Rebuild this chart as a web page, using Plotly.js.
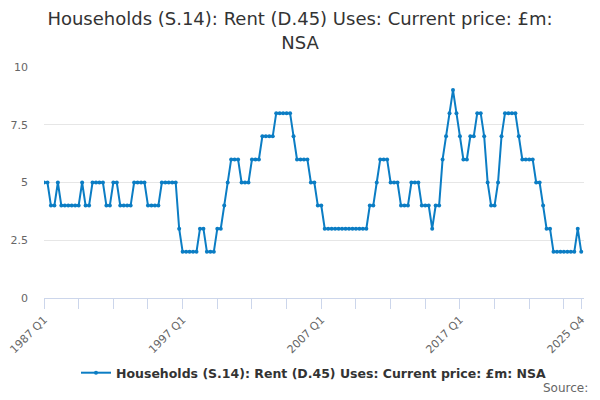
<!DOCTYPE html>
<html>
<head>
<meta charset="utf-8">
<script src="https://cdn.plot.ly/plotly-3.0.1.min.js"></script>
<style>html,body{margin:0;padding:0;background:#fff;}#chart{width:600px;height:400px;}</style>
</head>
<body>
<div id="chart"></div>
<script>
const seriesName = "Households (S.14): Rent (D.45) Uses: Current price: £m: NSA";
const startYear = 1987;
const endYear = 2025;
const values = [
  5,5,4,4,5,4,4,4,4,4,4,5,4,4,5,5,5,5,4,4,5,5,
  4,4,4,4,5,5,5,5,4,4,4,4,5,5,5,5,5,3,2,2,2,2,
  2,3,3,2,2,2,3,3,4,5,6,6,6,5,5,5,6,6,6,7,7,7,7,
  8,8,8,8,8,7,6,6,6,6,5,5,4,4,
  3,3,3,3,3,3,3,3,3,3,3,3,3,
  4,4,5,6,6,6,5,5,5,4,4,4,5,5,5,4,4,4,3,4,4,
  6,7,8,9,8,7,6,6,7,7,8,8,7,5,4,4,5,7,
  8,8,8,8,7,6,6,6,6,5,5,4,3,3,
  2,2,2,2,2,2,2,3,2
];
const quarters = [];
for (let y = startYear; y <= endYear; y++) for (let q = 1; q <= 4; q++) quarters.push(y + " Q" + q);
const labelledTicks = ["1987 Q1", "1997 Q1", "2007 Q1", "2017 Q1", "2025 Q4"];
const yTicks = [0, 2.5, 5, 7.5, 10];

const tickvals = [], ticktext = [];
for (let i = 0; i < quarters.length; i += 10) tickvals.push(quarters[i]);
tickvals.push(quarters[quarters.length - 1]);
tickvals.forEach(t => ticktext.push(labelledTicks.includes(t) ? t : ""));

const trace = {
  x: quarters,
  y: values,
  type: "scatter",
  mode: "lines+markers",
  name: seriesName,
  line: {color: "#0b7dc4", width: 2},
  marker: {color: "#0b7dc4", size: 4}
};

const layout = {
  width: 600, height: 400,
  paper_bgcolor: "#fff", plot_bgcolor: "#fff",
  margin: {l: 44, r: 16, t: 67, b: 102},
  font: {family: "DejaVu Sans, sans-serif", color: "#333"},
  title: {text: "Households (S.14): Rent (D.45) Uses: Current price: £m:<br>NSA",
          x: 0.5, xanchor: "center", y: 0.937, yanchor: "top",
          font: {size: 18, color: "#333", family: "DejaVu Sans, sans-serif", lineposition: "none"}},
  xaxis: {
    type: "category",
    range: [0, quarters.length - 0.2],
    tickmode: "array", tickvals: tickvals, ticktext: ticktext,
    tickangle: -45,
    ticks: "outside", ticklen: 10, tickcolor: "#ccd6eb", tickwidth: 1,
    showline: true, linecolor: "#ccd6eb", linewidth: 1,
    showgrid: false, zeroline: false,
    tickfont: {size: 11, color: "#666"}
  },
  yaxis: {
    range: [0, 10],
    tickmode: "array", tickvals: yTicks, ticktext: yTicks.map(String),
    showgrid: true, gridcolor: "#e6e6e6", gridwidth: 1,
    zeroline: false, showline: false,
    ticklabelstandoff: 15,
    tickfont: {size: 11, color: "#666"}
  },
  showlegend: true,
  legend: {orientation: "h", x: 0.5, xanchor: "center", y: -0.325, yanchor: "middle",
           font: {size: 12.5, color: "#333", family: "DejaVu Sans, sans-serif", weight: "bold"}},
  annotations: [{text: "Source:", xref: "paper", yref: "paper", x: 1.012, y: -0.39, xanchor: "right", yanchor: "middle",
                 showarrow: false, font: {size: 12, color: "#666"}}]
};

Plotly.newPlot("chart", [trace], layout, {displayModeBar: false, staticPlot: true});
</script>
</body>
</html>
